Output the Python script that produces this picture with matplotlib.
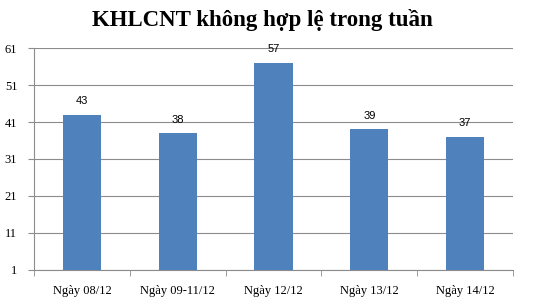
import matplotlib
matplotlib.use("Agg")
import matplotlib.pyplot as plt
import numpy as np

categories = ["Ngày 08/12", "Ngày 09-11/12", "Ngày 12/12", "Ngày 13/12", "Ngày 14/12"]
values = [43, 38, 57, 39, 37]
yticks = [1, 11, 21, 31, 41, 51, 61]

BAR = "#4f81bd"
GRID = "#8c8c8c"

plt.rcParams["font.family"] = ["Liberation Serif", "DejaVu Serif"]

fig = plt.figure(figsize=(5.4, 3.04), dpi=100)
ax = fig.add_axes([0.063, 0.112, 0.887, 0.730])

x = np.arange(len(categories))
ax.bar(x, values, width=0.4, color=BAR, zorder=3)
# étiquettes de valeur, en sans-serif comme dans l'original
for xi, v in zip(x, values):
    ax.annotate(str(v), (xi, v), xytext=(0, 6), textcoords="offset points",
                ha="center", va="bottom", fontsize=8, family="Liberation Sans")

ax.set_xlim(-0.5, len(categories) - 0.5)
ax.set_ylim(yticks[0], yticks[-1])
ax.set_yticks(yticks)
ax.yaxis.grid(True, color=GRID, linewidth=0.8, zorder=0)
ax.set_xticks(x)
ax.set_xticklabels(categories, fontsize=9)
ax.set_xticks(np.arange(len(categories) + 1) - 0.5, minor=True)
ax.tick_params(axis="x", which="major", length=0, pad=11)
ax.tick_params(axis="x", which="minor", length=4, color=GRID)
ax.tick_params(axis="y", length=4, color=GRID, labelsize=9, pad=8)

for s in ["top", "right"]:
    ax.spines[s].set_visible(False)
for s in ["left", "bottom"]:
    ax.spines[s].set_color(GRID)

fig.text(0.486, 0.914, "KHLCNT không hợp lệ trong tuần", ha="center", va="baseline",
         fontsize=16.5, fontweight="bold")

fig.savefig("out.png", dpi=100)
